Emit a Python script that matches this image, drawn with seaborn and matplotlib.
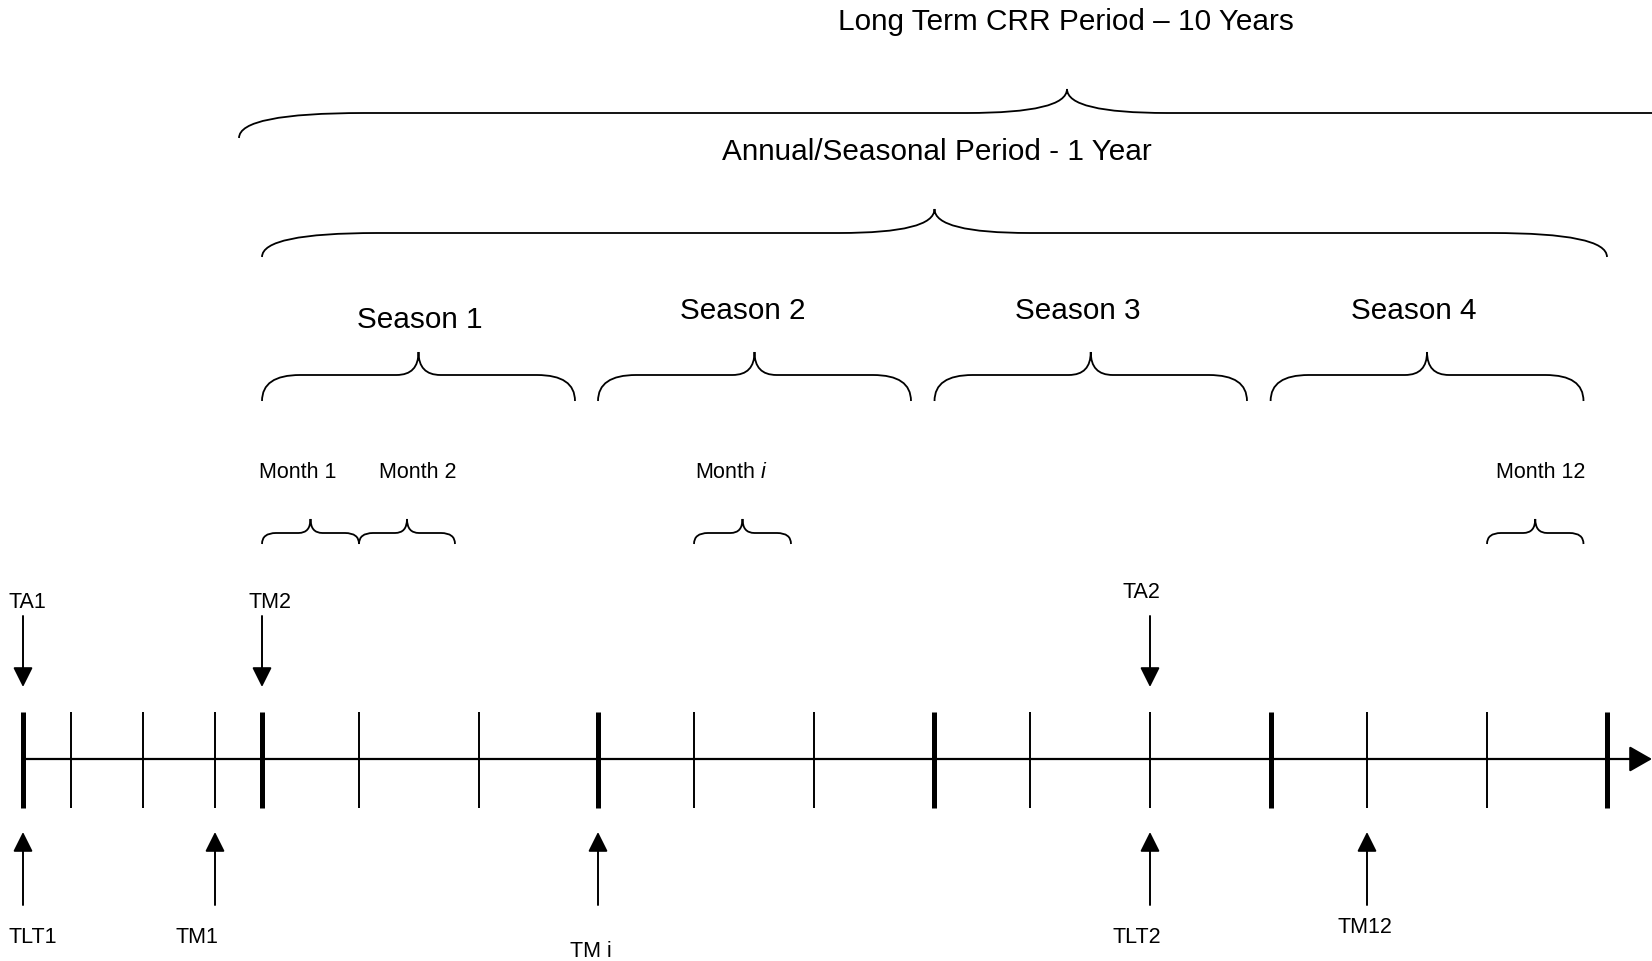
import matplotlib
matplotlib.use("Agg")
import matplotlib.pyplot as plt
from matplotlib.path import Path
from matplotlib.patches import PathPatch
import seaborn as sns
import pandas as pd

# time axis boundaries (pixel-like units along the diagram)
bounds_x = [23, 71, 143, 215, 262, 359, 479, 598, 694, 814, 934, 1030, 1150, 1271, 1367, 1487, 1607]
thick_idx = [0, 4, 7, 10, 13, 16]

# arrows pointing down onto the axis
down_labels = ["TA1", "TM2", "TA2"]
down_idx = [0, 4, 12]
down_label_xy = [(27, 603), (270, 603), (1141, 593)]

# arrows pointing up to the axis
up_labels = ["TLT1", "TM1", "TM i", "TLT2", "TM12"]
up_idx = [0, 3, 7, 12, 14]
up_label_xy = [(33, 938), (197, 938), (591, 952), (1137, 938), (1365, 928)]

# braces: start, end, cusp x
long_brace = (239, 1895, 1067)
annual_brace = (262, 1607, 934.5)
season_starts = [262, 598, 934.5, 1270.6]
season_ends = [575, 911, 1247, 1583.5]
season_names = ["Season 1", "Season 2", "Season 3", "Season 4"]
season_label_xy = [(420, 320), (743, 311), (1078, 311), (1414, 311)]
month_starts = [262, 359, 694, 1487]
month_ends = [359, 455, 791, 1583.5]
month_names = ["Month 1", "Month 2", "Month $i$", "Month 12"]
month_label_xy = [(298, 473), (418, 473), (731, 473), (1541, 473)]

W, H = 1652, 962
BIG, SMALL = 21.4, 15.5

sns.set_style("white")
plt.rcParams['font.family'] = ['Liberation Sans', 'DejaVu Sans']
plt.rcParams['text.color'] = 'black'
plt.rcParams['mathtext.fontset'] = 'custom'
plt.rcParams['mathtext.rm'] = 'Liberation Sans'
plt.rcParams['mathtext.it'] = 'Liberation Sans:italic'

fig = plt.figure(figsize=(16.52, 9.62), dpi=100)
ax = fig.add_axes([0, 0, 1, 1])
ax.set_xlim(0, W)
ax.set_ylim(H, 0)
ax.axis('off')


def brace(x0, x1, xc, y_end, y_line, y_cusp, end_w, cusp_w, lw=1.3):
    verts = [(x0, y_end), (x0, y_line), (x0 + end_w, y_line),
             (xc - cusp_w, y_line),
             (xc, y_line), (xc, y_cusp),
             (xc, y_line), (xc + cusp_w, y_line),
             (x1 - end_w, y_line),
             (x1, y_line), (x1, y_end)]
    codes = [Path.MOVETO, Path.CURVE3, Path.CURVE3,
             Path.LINETO,
             Path.CURVE3, Path.CURVE3,
             Path.CURVE3, Path.CURVE3,
             Path.LINETO,
             Path.CURVE3, Path.CURVE3]
    ax.add_patch(PathPatch(Path(verts, codes), fc='none', ec='black', lw=lw))


# main time line
line_df = pd.DataFrame({"x": [bounds_x[0], W - 14], "y": [760, 760]})
sns.lineplot(data=line_df, x="x", y="y", ax=ax, color="black", lw=1.6)
ax.annotate('', xy=(W, 760), xytext=(W - 20, 760),
            arrowprops=dict(arrowstyle='-|>,head_length=0.7,head_width=0.4',
                            color='black', lw=1.6, shrinkA=0, shrinkB=0,
                            mutation_scale=20))

for i, x in enumerate(bounds_x):
    lw = 3.6 if i in thick_idx else 1.4
    ax.plot([x, x], [713, 809], color='black', lw=lw, solid_capstyle='butt')

arrow_kw = dict(arrowstyle='-|>,head_length=0.6,head_width=0.3',
                color='black', lw=1.4, shrinkA=0, shrinkB=0, mutation_scale=20)

for lab, i, (tx, ty) in zip(down_labels, down_idx, down_label_xy):
    x = bounds_x[i]
    ax.annotate('', xy=(x, 688), xytext=(x, 617), arrowprops=arrow_kw)
    ax.text(tx, ty, lab, ha='center', va='center', fontsize=SMALL)

for lab, i, (tx, ty) in zip(up_labels, up_idx, up_label_xy):
    x = bounds_x[i]
    ax.annotate('', xy=(x, 833), xytext=(x, 906), arrowprops=arrow_kw)
    ax.text(tx, ty, lab, ha='center', va='center', fontsize=SMALL)

# long term and annual braces
brace(*long_brace, 139, 114, 90, 125, 100)
ax.text(1066, 22, "Long Term CRR Period \u2013 10 Years", ha='center', va='center', fontsize=BIG)
brace(*annual_brace, 258, 234, 210, 115, 95)
ax.text(937, 152, "Annual/Seasonal Period - 1 Year", ha='center', va='center', fontsize=BIG)

# season braces
for s0, s1, name, (tx, ty) in zip(season_starts, season_ends, season_names, season_label_xy):
    brace(s0, s1, (s0 + s1) / 2, 402, 376, 353, 38, 22)
    ax.text(tx, ty, name, ha='center', va='center', fontsize=BIG)

# month braces
for m0, m1, name, (tx, ty) in zip(month_starts, month_ends, month_names, month_label_xy):
    brace(m0, m1, (m0 + m1) / 2, 545, 534, 520, 14, 12)
    ax.text(tx, ty, name, ha='center', va='center', fontsize=SMALL)

fig.savefig("out.png", dpi=100)
